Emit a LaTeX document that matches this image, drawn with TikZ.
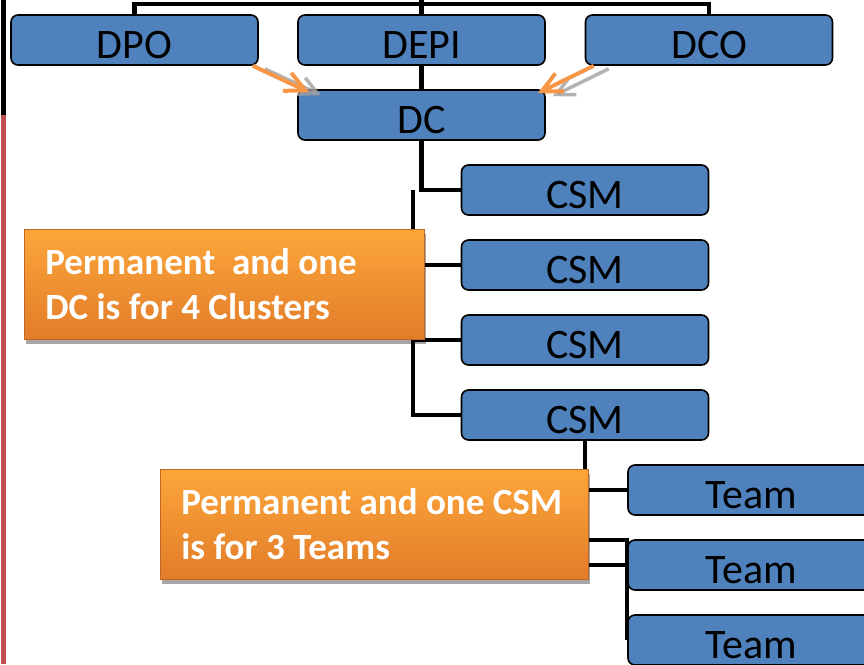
\documentclass[tikz,border=0pt]{standalone}
\usepackage{fontspec}
\setmainfont{Carlito}
\usepackage{tikz}
\usetikzlibrary{arrows.meta,shadows,backgrounds}
\usepackage{xcolor}
\definecolor{boxblue}{RGB}{79,129,189}
\definecolor{pointerorange}{RGB}{247,150,70}
\definecolor{notetop}{RGB}{252,166,58}
\definecolor{notebottom}{RGB}{226,124,42}
\definecolor{slidered}{RGB}{192,80,77}
\definecolor{ghostgray}{RGB}{160,160,160}
\tikzset{
	rank/.style={draw=black, line width=1.6pt, fill=boxblue, rounded corners=7pt, minimum width=247pt, minimum height=50pt, inner sep=0pt, text height=37pt, text depth=0pt, font=\fontsize{42}{50}\selectfont},
	note/.style={anchor=north west, top color=notetop, bottom color=notebottom, draw=notebottom!85!black, line width=0.6pt, drop shadow={shadow xshift=2pt, shadow yshift=-5pt, fill=black, opacity=0.35}, text=white, font=\bfseries\fontsize{37}{45}\selectfont, align=flush left, inner xsep=21pt, minimum height=110pt},
	link/.style={draw=black, line width=4.5pt},
	pointer/.style={line width=4pt, draw=pointerorange, -{Straight Barb[length=20pt, width=20pt]}},
	ghost/.style={line width=3.5pt, draw=ghostgray, opacity=0.8, -{Straight Barb[length=18pt, width=18pt]}}
}
\begin{document}
\begin{tikzpicture}[x=1pt, y=-1pt]
	\useasboundingbox (0,0) rectangle (864,664);
	\clip (0,0) rectangle (864,664);
	\draw[line width=5pt] (3,0) -- (3,115);
	\draw[line width=5pt, slidered] (3,115) -- (3,664);
	\node[rank] (DPO) at (134.5,40) {DPO};
	\node[rank] (DEPI) at (421.5,40) {DEPI};
	\node[rank] (DCO) at (709,40) {DCO};
	\node[rank] (DC) at (421.5,115) {DC};
	\foreach \i/\y in {1/190, 2/265, 3/340, 4/415}
		\node[rank] (CSM\i) at (585,\y) {CSM};
	\foreach \i/\y in {1/490, 2/565, 3/640}
		\node[rank] (Team\i) at (751.5,\y) {Team};
	\coordinate (roof) at (421.5,0);
	\coordinate (trunk) at (413,190);
	\coordinate (fork) at (585,540);
	\begin{scope}[on background layer]
		\draw[link] (DPO.north) -- ++(0,-10) -| (DCO.north);
		\draw[link] (roof) -- (DEPI.north);
		\draw[link] (DEPI.south) -- (DC.north);
		\draw[link] (DC.south) |- (CSM1.west);
		\draw[link] (trunk) |- (CSM4.west);
		\draw[link] (CSM2.west) -- (CSM2.west -| trunk);
		\draw[link] (CSM3.west) -- (CSM3.west -| trunk);
		\draw[link] (CSM4.south) |- (Team2.west);
		\draw[link] (CSM4.south |- Team1.west) -- (Team1.west);
		\draw[link] (fork) -| (Team3.west);
	\end{scope}
	\node[note, text width=358pt] (DCnote) at (24,229) {Permanent\ \ and one\\DC is for 4 Clusters};
	\node[note, text width=386pt] (CSMnote) at (160,469) {Permanent and one CSM\\is for 3 Teams};
	\draw[ghost, transform canvas={shift={(12pt,-3pt)}}] ([xshift=-6pt]DPO.south east) -- ([xshift=12pt, yshift=-3pt]DC.north west);
	\draw[pointer] ([xshift=-6pt]DPO.south east) -- ([xshift=12pt, yshift=-3pt]DC.north west);
	\draw[ghost, transform canvas={shift={(15pt,-3pt)}}] ([xshift=9pt]DCO.south west) -- ([xshift=-8pt, yshift=-4pt]DC.north east);
	\draw[pointer] ([xshift=9pt]DCO.south west) -- ([xshift=-8pt, yshift=-4pt]DC.north east);
\end{tikzpicture}
\end{document}
